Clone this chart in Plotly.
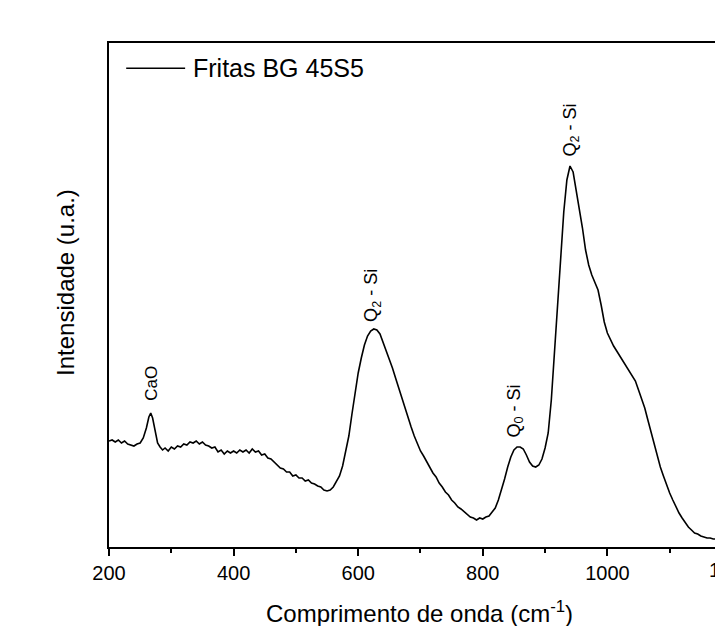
import plotly.graph_objects as go

# Raman spectrum of "Fritas BG 45S5"
wavenumber = [200, 205, 210, 215, 220, 225, 230, 235, 240, 245, 250, 255, 260, 264, 267, 270, 274, 278, 282, 286,
              290, 295, 300, 305, 310, 315, 320, 325, 330, 335, 340, 345, 350, 355, 360, 365, 370, 375, 380, 385,
              390, 395, 400, 405, 410, 415, 420, 425, 430, 435, 440, 445, 450, 455, 460, 465, 470, 475, 480, 485,
              490, 495, 500, 505, 510, 515, 520, 525, 530, 535, 540, 545, 550, 555, 560, 565, 570, 575, 580, 585,
              590, 595, 600, 605, 610, 615, 620, 625, 630, 635, 640, 645, 650, 655, 660, 665, 670, 675, 680, 685,
              690, 695, 700, 705, 710, 715, 720, 725, 730, 735, 740, 745, 750, 755, 760, 765, 770, 775, 780, 785,
              790, 795, 800, 805, 810, 815, 820, 825, 830, 835, 840, 845, 850, 855, 860, 865, 870, 875, 880, 885,
              890, 895, 900, 905, 910, 915, 920, 925, 930, 935, 940, 945, 950, 955, 960, 965, 970, 975, 980, 985,
              990, 995, 1000, 1005, 1010, 1015, 1020, 1025, 1030, 1035, 1040, 1045, 1050, 1055, 1060, 1065, 1070,
              1075, 1080, 1085, 1090, 1095, 1100, 1105, 1110, 1115, 1120, 1125, 1130, 1135, 1140, 1145, 1150, 1155,
              1160, 1165, 1170, 1175, 1180, 1185, 1190, 1195, 1200]
intensity = [106, 107, 105, 107, 104, 106, 103, 102, 101, 103, 104, 109, 119, 130, 134, 129, 115, 104, 100, 97,
             99, 96, 100, 98, 101, 100, 103, 102, 105, 104, 106, 103, 105, 102, 101, 99, 100, 95, 97, 93,
             96, 94, 96, 94, 97, 95, 97, 94, 98, 95, 96, 92, 93, 89, 88, 85, 83, 79, 78, 75,
             75, 71, 72, 69, 69, 66, 67, 64, 63, 61, 60, 57, 56, 57, 60, 65, 71, 81, 96, 111,
             133, 154, 174, 189, 202, 211, 216, 218, 217, 213, 205, 197, 189, 179, 169, 159, 149, 138, 129, 120,
             111, 104, 96, 91, 85, 80, 74, 70, 64, 60, 55, 52, 47, 44, 40, 38, 35, 33, 30, 29,
             27, 29, 28, 30, 31, 35, 39, 47, 57, 68, 80, 90, 97, 100, 100, 98, 92, 85, 81, 80,
             82, 88, 99, 114, 147, 192, 247, 292, 335, 367, 381, 375, 357, 339, 319, 297, 282, 272, 265, 257,
             242, 225, 214, 207, 201, 196, 191, 186, 182, 177, 172, 166, 157, 148, 139, 127, 115,
             103, 91, 80, 71, 62, 54, 47, 40, 34, 29, 24, 20, 17, 14, 13, 11, 10,
             9, 9, 8, 8, 7, 7, 7, 7, 6]

series_name = "Fritas BG 45S5"
peak_labels = ["CaO", "Q<sub>2</sub> - Si", "Q<sub>0</sub> - Si", "Q<sub>2</sub> - Si"]
peak_x = [267, 622, 851, 941]
peak_label_y = [164, 252, 136, 417]
peak_font = [17, 18, 18, 18]

x_title = "Comprimento de onda (cm<sup>-1</sup>)"
y_title = "Intensidade (u.a.)"
x_tickvals = [200, 400, 600, 800, 1000]

X_MIN, X_MAX = 200, 1185.6
Y_MIN, Y_MAX = 0, 504

FONT = "Liberation Sans, Arial, sans-serif"

fig = go.Figure()
fig.add_trace(go.Scatter(x=wavenumber, y=intensity, mode="lines", name=series_name,
                         line=dict(color="black", width=1.6), showlegend=False))

for lab, px, py, fs in zip(peak_labels, peak_x, peak_label_y, peak_font):
    fig.add_annotation(x=px, y=py, xref="x", yref="y", text=lab, showarrow=False,
                       textangle=-90, xanchor="center", yanchor="middle",
                       font=dict(family=FONT, size=fs, color="black"))

# cut-off 1200 tick label at the right edge
fig.add_annotation(x=(1200 - X_MIN) / (X_MAX - X_MIN), y=0, xref="paper", yref="paper",
                   yshift=-10, text="1200", showarrow=False, xanchor="center", yanchor="top",
                   font=dict(family=FONT, size=20, color="black"))

# legend (drawn manually to match the long sample line)
fig.add_shape(type="line", xref="paper", yref="paper", x0=0.028, x1=0.124, y0=0.950, y1=0.950,
              line=dict(color="black", width=1.6))
fig.add_annotation(x=0.134, y=0.950, xref="paper", yref="paper", text=series_name, showarrow=False,
                   xanchor="left", yanchor="middle", font=dict(family=FONT, size=25, color="black"))

# axis titles
fig.add_annotation(x=0.5065, y=-0.128, xref="paper", yref="paper", text=x_title, showarrow=False,
                   xanchor="center", yanchor="middle", font=dict(family=FONT, size=24, color="black"))
fig.add_annotation(x=-0.070, y=0.524, xref="paper", yref="paper", text=y_title, showarrow=False,
                   textangle=-90, xanchor="center", yanchor="middle",
                   font=dict(family=FONT, size=24, color="black"))

fig.update_layout(
    width=715, height=618,
    margin=dict(l=101, r=0, t=35, b=79),
    paper_bgcolor="white", plot_bgcolor="white",
    font=dict(family=FONT, color="black"),
    xaxis=dict(range=[X_MIN, X_MAX], tickvals=x_tickvals, ticks="outside", ticklen=7, tickwidth=1.5,
               tickcolor="black", showline=True, linecolor="black", linewidth=1.5, mirror=True,
               showgrid=False, zeroline=False, tickfont=dict(family=FONT, size=20, color="black"),
               minor=dict(tickvals=[300, 500, 700, 900, 1100], ticks="outside", ticklen=4,
                          tickwidth=1.5, tickcolor="black", showgrid=False)),
    yaxis=dict(range=[Y_MIN, Y_MAX], showticklabels=False, ticks="", showline=True, linecolor="black",
               linewidth=1.5, mirror=False, showgrid=False, zeroline=False),
)

fig.write_html("out.html")
